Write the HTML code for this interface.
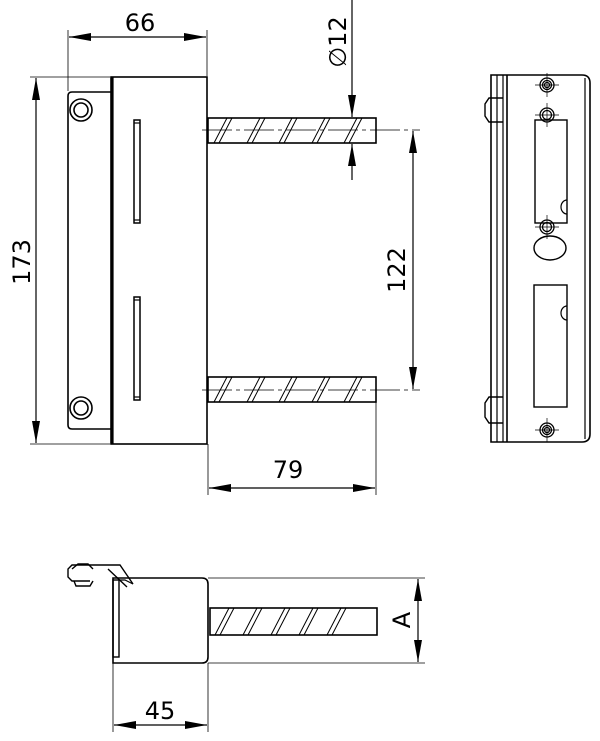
<!DOCTYPE html>
<html><head><style>
html,body{margin:0;padding:0;background:#fff;width:600px;height:741px;overflow:hidden}
svg{display:block}
text{font-family:"DejaVu Sans","Liberation Sans",sans-serif;fill:#000;font-size:24px}
</style></head><body>
<svg width="600" height="741" viewBox="0 0 600 741" xmlns="http://www.w3.org/2000/svg">
<defs>
<marker id="ar" viewBox="0 0 10 10" refX="10" refY="5" markerWidth="22" markerHeight="8" markerUnits="userSpaceOnUse" orient="auto-start-reverse" preserveAspectRatio="none"><path d="M0,0 L10,5 L0,10 z" fill="#000"/></marker>
</defs>
<g fill="none" stroke="#000" stroke-width="1.2">
<!-- FRONT VIEW -->
<rect x="111" y="77" width="96" height="367" stroke-width="1.6"/>
<line x1="112.5" y1="77" x2="112.5" y2="444" stroke-width="2.2"/>
<path d="M111,92 H72 Q68,92 68,96 V425 Q68,429 72,429 H111" stroke-width="1.6"/>
<circle cx="81" cy="110" r="11" stroke-width="1.6"/><circle cx="81" cy="110" r="7" stroke-width="1.6"/>
<circle cx="81" cy="408" r="11" stroke-width="1.6"/><circle cx="81" cy="408" r="7" stroke-width="1.6"/>
<rect x="134" y="120" width="6" height="103" stroke-width="1.5"/><line x1="134" y1="123" x2="140" y2="123"/><line x1="134" y1="220" x2="140" y2="220"/>
<rect x="134" y="297" width="6" height="103" stroke-width="1.5"/><line x1="134" y1="300" x2="140" y2="300"/><line x1="134" y1="397" x2="140" y2="397"/>
<rect x="208" y="118" width="168" height="25" stroke-width="1.6"/>
<rect x="208" y="377" width="168" height="25" stroke-width="1.6"/>
<g stroke-width="1">
<path d="M227,118 L214,143 M232,118 L219,143 M260,118 L247,143 M265,118 L252,143 M292,118 L279,143 M297,118 L284,143 M325,118 L312,143 M330,118 L317,143 M357,118 L344,143 M362,118 L349,143"/>
<path d="M227,377 L214,402 M232,377 L219,402 M260,377 L247,402 M265,377 L252,402 M292,377 L279,402 M297,377 L284,402 M325,377 L312,402 M330,377 L317,402 M357,377 L344,402 M362,377 L349,402"/>
<line x1="202" y1="130" x2="420" y2="130" stroke-width="0.8" stroke-dasharray="30,4,4,4"/>
<line x1="202" y1="390" x2="420" y2="390" stroke-width="0.8" stroke-dasharray="30,4,4,4"/>
</g>
<!-- dims front -->
<line x1="30" y1="77" x2="110" y2="77" stroke-width="0.8"/>
<line x1="30" y1="444" x2="110" y2="444" stroke-width="0.8"/>
<line x1="36" y1="78" x2="36" y2="443" marker-start="url(#ar)" marker-end="url(#ar)"/>
<line x1="68" y1="30" x2="68" y2="91" stroke-width="0.8"/>
<line x1="207" y1="30" x2="207" y2="76" stroke-width="0.8"/>
<line x1="69" y1="37" x2="206" y2="37" marker-start="url(#ar)" marker-end="url(#ar)"/>
<line x1="352" y1="0" x2="352" y2="117" marker-end="url(#ar)"/>
<line x1="352" y1="180" x2="352" y2="144" marker-end="url(#ar)"/>
<line x1="413" y1="131" x2="413" y2="389" marker-start="url(#ar)" marker-end="url(#ar)"/>
<line x1="208" y1="444" x2="208" y2="495" stroke-width="0.8"/>
<line x1="376" y1="402" x2="376" y2="495" stroke-width="0.8"/>
<line x1="209" y1="488" x2="375" y2="488" marker-start="url(#ar)" marker-end="url(#ar)"/>
<!-- SIDE VIEW -->
<path d="M491,75 H582 Q590,75 590,83 V434 Q590,442 582,442 H491 Z" stroke-width="1.6"/>
<line x1="497" y1="75" x2="497" y2="442"/>
<line x1="503" y1="75" x2="503" y2="442"/>
<line x1="507" y1="75" x2="507" y2="442" stroke-width="1.6"/>
<line x1="585" y1="78" x2="585" y2="439"/>
<path d="M503,98 H489 L485,104 V116 L489,122 H503" stroke-width="1.4"/>
<path d="M503,397 H489 L485,403 V417 L489,423 H503" stroke-width="1.4"/>
<rect x="535" y="120" width="32" height="103" stroke-width="1.4"/>
<path d="M567,200 A6,7 0 0 0 567,214"/>
<rect x="534" y="285" width="33" height="122" stroke-width="1.4"/>
<path d="M567,306 A6,7 0 0 0 567,320"/>
<ellipse cx="550" cy="248" rx="16" ry="12" stroke-width="1.4"/>
<g stroke-width="1.3">
<circle cx="547" cy="85" r="7"/><circle cx="547" cy="85" r="4.5"/><circle cx="547" cy="85" r="2.5"/>
<circle cx="547" cy="115" r="7"/><circle cx="547" cy="115" r="4.5"/>
<circle cx="547" cy="227" r="7"/><circle cx="547" cy="227" r="4.5"/>
<circle cx="547" cy="430" r="7"/><circle cx="547" cy="430" r="4.5"/><circle cx="547" cy="430" r="2.5"/>
</g>
<g stroke-width="0.7">
<path d="M535,85 H559 M547,73 V97 M535,115 H559 M547,103 V127 M535,227 H559 M547,215 V239 M535,430 H559 M547,418 V442"/>
</g>
<!-- BOTTOM VIEW -->
<path d="M113,578 H202 Q208,578 208,584 V657 Q208,663 202,663 H113 Z" stroke-width="1.6"/>
<rect x="113" y="580" width="6" height="77" stroke-width="1.4"/>
<path d="M119,580 H125 L133,584" />
<path d="M110,565 H72 L68,569 V577 L72,581 H90 M110,565 L120,565 L133,584 M108,569 L127,587" stroke-width="1.4"/>
<path d="M72,569 L78,564 H88 L93,569 M74,581 L76,586 H90 L93,581" stroke-width="1.4"/>
<rect x="210" y="608" width="167" height="27" stroke-width="1.6"/>
<path d="M229,608 L215,635 M234,608 L220,635 M257,608 L243,635 M262,608 L248,635 M285,608 L271,635 M290,608 L276,635 M313,608 L299,635 M318,608 L304,635 M341,608 L327,635 M346,608 L332,635" stroke-width="1"/>
<line x1="208" y1="578" x2="425" y2="578" stroke-width="0.8"/>
<line x1="208" y1="663" x2="425" y2="663" stroke-width="0.8"/>
<line x1="418" y1="579" x2="418" y2="662" marker-start="url(#ar)" marker-end="url(#ar)"/>
<line x1="113" y1="663" x2="113" y2="732" stroke-width="0.8"/>
<line x1="208" y1="663" x2="208" y2="732" stroke-width="0.8"/>
<line x1="114" y1="725" x2="207" y2="725" marker-start="url(#ar)" marker-end="url(#ar)"/>
</g>
<!-- text -->
<text x="140" y="31" text-anchor="middle">66</text>
<text x="288" y="478" text-anchor="middle">79</text>
<text x="160" y="719" text-anchor="middle">45</text>
<text transform="translate(30,262) rotate(-90)" text-anchor="middle">173</text>
<text transform="translate(405,270) rotate(-90)" text-anchor="middle">122</text>
<text transform="translate(346,42) rotate(-90)" text-anchor="middle">∅12</text>
<text transform="translate(410,620) rotate(-90)" text-anchor="middle">A</text>
</svg>
</body></html>
